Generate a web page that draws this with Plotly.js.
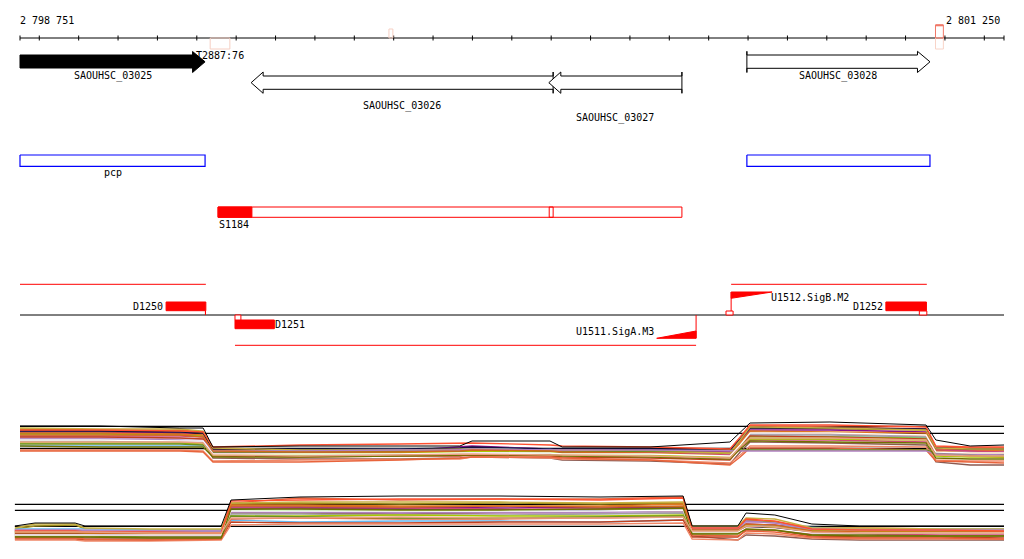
<!DOCTYPE html>
<html><head><meta charset="utf-8">
<script src="https://cdn.plot.ly/plotly-3.0.1.min.js"></script>
<style>html,body{margin:0;padding:0;background:#fff}#chart{width:1024px;height:559px}</style>
</head><body><div id="chart"></div>
<script>
// ---------------- DATA ----------------
const viewStart = 2798751, viewEnd = 2801250;
const rulerLabels = ['2 798 751', '2 801 250'];

const geneNames  = ['SAOUHSC_03025', 'SAOUHSC_03026', 'SAOUHSC_03027', 'SAOUHSC_03028'];
const geneStart  = [2798751, 2799338, 2800094, 2800597];
const geneEnd    = [2799221, 2800105, 2800432, 2801062];
const geneStrand = ['+', '-', '-', '+'];

const operonNames = ['pcp', ''];
const operonStart = [2798751, 2800597];
const operonEnd   = [2799221, 2801062];

const termNames = ['T2887:76', '', ''];
const termStart = [2799234, 2799688, 2801076];
const termEnd   = [2799284, 2799698, 2801096];

const segNames = ['S1184'];
const segStart = [2799254];
const segEnd = [2800432];
const segBlockEnd = [2799340];
const segSplitStart = [2800095];
const segSplitEnd = [2800105];

const tuStart  = [2798751, 2800557, 2799297];
const tuEnd    = [2799223, 2801054, 2800468];
const tuStrand = ['+', '+', '-'];

const siteNames  = ['D1250', 'D1251', 'U1511.SigA.M3', 'U1512.SigB.M2', 'D1252'];
const siteStart  = [2799122, 2799297, 2800368, 2800557, 2800950];
const siteEnd    = [2799223, 2799397, 2800468, 2800661, 2801053];
const siteStrand = ['+', '-', '-', '+', '+'];
const siteKind   = ['D', 'D', 'U', 'U', 'D'];

const markStart  = [2799222, 2799297, 2800544, 2801035];
const markEnd    = [2799222, 2799312, 2800562, 2801054];
const markStrand = ['+', '-', '+', '+'];

// expression panel 1
const panel1X = [2798751,2798954,2799157,2799216,2799241,2799462,2799716,2799868,2799899,2800097,2800128,2800351,2800554,2800580,2800605,2800808,2801052,2801077,2801164,2801250];
const panel1Ref = [43.7, 36.7, 21.5];
const panel1Max = [44,44,42,42,23,24,24,24,29,29,23,23,28,38,47,48,45,30,24,25];
const a01 = [40,39,40,38,21,20,21,20,20,20,20,20,18,30,44,43,41,23,22,22];
const a02 = [41,40,39,37,19,18,19,19,19,18,18,18,16,28,42,41,40,21,20,20];
const a03 = [38,38,37,35,18,19,19,23,24,21,19,19,18,29,40,40,38,20,19,20];
const a04 = [24,24,24,24,18,20,21,21,22,21,18,17,15,25,34,33,32,18,18,19];
const a05 = [36,36,35,34,16,15,16,17,18,17,15,16,14,26,33,33,32,16,15,15];
const a06 = [37,37,36,35,20,18,19,19,20,19,18,18,15,28,39,38,37,21,20,19];
const a07 = [30,30,29,28,12,11,11,12,13,12,10,9,6,18,28,27,25,8,5,5];
const a08 = [32,32,32,31,17,16,17,17,18,17,16,15,13,26,36,36,34,19,18,18];
const a09 = [39,39,38,37,21,21,21,22,23,21,21,21,20,31,42,42,41,22,21,21];
const a10 = [29,29,28,28,18,18,19,19,19,18,18,17,15,25,35,35,33,17,17,17];
const a11 = [42,41,41,39,22,20,20,21,21,20,20,19,17,30,43,42,40,22,21,21];
const a12 = [34,34,34,33,17,17,18,20,20,18,17,17,15,23,30,30,28,20,19,18];
const a13 = [33,33,32,31,14,13,14,14,15,14,13,12,10,22,34,33,31,15,14,13];
const a14 = [27,27,27,26,15,16,17,18,19,18,16,15,13,24,31,31,30,14,13,13];
const a15 = [20,20,20,19,9,10,11,11,13,12,11,10,7,15,24,24,23,10,9,9];
const a16 = [19,19,19,18,8,8,10,12,13,13,12,10,5,13,22,22,20,9,8,7];
const a17 = [26,26,26,25,18,18,19,19,20,19,18,19,20,20,20,20,20,17,16,16];
const a18 = [31,31,30,29,19,19,20,20,21,20,20,20,19,19,19,19,19,16,16,15];
const a19 = [35,35,35,33,19,18,18,19,20,19,18,17,14,26,38,37,35,19,17,17];
const a20 = [40,40,39,38,23,25,26,27,27,25,24,23,21,33,45,45,43,24,23,23];
const a21 = [30,30,29,29,16,16,16,17,17,17,16,16,14,25,37,37,35,18,17,17];
const a22 = [24,23,23,23,13,13,14,15,15,15,14,13,11,21,29,28,27,12,11,11];
const a23 = [28,28,28,27,15,14,15,16,16,15,15,14,12,23,32,32,30,15,14,14];

// expression panel 2
const panel2X = [2798738,2798789,2798891,2798916,2799081,2799262,2799287,2799462,2799716,2799970,2800224,2800435,2800458,2800574,2800595,2800668,2800762,2800884,2801087,2801250];
const panel2Ref = [40.7, 34.7, 18.7];
const panel2Max = [19,22,22,19,19,19,45,48,49,49,48,49,19,19,32,30,21,19,19,19];
const b01 = [15,15,15,14,14,13,42,47,45,46,46,48,17,17,25,23,17,17,16,16];
const b02 = [16,19,20,16,15,15,41,42,41,42,41,42,18,18,24,23,15,14,13,13];
const b03 = [14,14,14,14,13,13,38,38,37,38,37,38,16,16,21,20,15,15,15,14];
const b04 = [16,16,16,16,15,15,25,23,24,24,23,25,19,19,20,19,17,16,16,16];
const b05 = [13,13,13,13,12,12,35,34,34,35,35,36,15,15,18,17,13,12,12,12];
const b06 = [12,12,12,11,11,11,40,40,39,39,39,41,14,14,19,18,13,13,13,12];
const b07 = [8,8,8,7,7,7,32,32,31,32,32,33,9,5,10,9,6,5,5,5];
const b08 = [15,15,15,15,14,14,34,33,33,32,32,33,17,17,23,22,16,16,15,15];
const b09 = [11,11,11,11,10,10,36,37,36,36,34,35,14,14,18,17,12,12,12,12];
const b10 = [14,14,14,13,13,13,31,31,30,30,31,32,16,16,20,19,15,14,14,14];
const b11 = [17,21,21,17,16,16,42,43,43,43,42,43,19,19,27,26,17,17,16,16];
const b12 = [10,10,10,10,9,9,37,37,37,36,36,37,13,13,17,16,11,11,10,10];
const b13 = [6,6,6,5,5,6,23,22,22,23,23,25,8,8,15,15,9,8,8,7];
const b14 = [13,13,13,12,12,12,29,29,30,29,29,30,15,15,19,18,14,14,13,13];
const b15 = [5,5,5,4,4,5,20,21,21,21,21,22,6,5,12,11,7,6,6,6];
const b16 = [7,7,7,6,5,6,26,27,26,26,27,28,10,9,14,13,8,7,7,6];
const b17 = [9,9,9,9,8,8,29,28,27,27,28,29,12,12,16,15,10,10,9,9];
const b18 = [15,15,15,14,14,14,33,33,32,33,33,35,16,16,24,22,16,15,15,15];
const b19 = [12,12,12,12,11,11,39,39,38,39,38,39,15,15,21,20,14,13,13,13];
const b20 = [14,14,14,13,13,12,44,45,46,46,45,47,17,17,26,24,16,15,15,14];
const b21 = [10,10,10,10,10,10,34,34,34,34,34,35,13,13,17,16,12,12,12,12];
const b22 = [8,8,8,8,7,7,36,36,35,35,36,37,11,11,16,15,10,9,9,9];
const b23 = [13,13,13,13,12,12,27,27,28,27,27,28,14,14,19,18,13,12,12,12];

// ---------------- STYLE / LAYOUT ----------------
const seriesColors = ['#e8643c','#9c8c1c','#8b108b','#66b8f0','#66ee11','#e07820','#8c5a50','#c8a0d0','#101040','#a0a0a0','#c8b040','#d04878','#c04020','#a8c800','#f08868','#e8643c','#6b8e23','#b080c0','#d2691e','#ff5030','#ffffff','#707000','#e8a080'];
const highlightGene = 'SAOUHSC_03025';
const geneLabelY = [76, 106, 118.3, 76];
const RED = '#ff0000';
const FONT = {family: 'DejaVu Sans Mono, monospace', size: 10, color: '#000'};

const bpp = (viewEnd - viewStart) / 984;
const pw = n => n * bpp;
const xRange = [viewStart - 20 * bpp, viewStart - 20 * bpp + 1024 * bpp];

const traces = [];
const annotations = [];
function poly(xs, ys, stroke, fill, w, yax) {
  traces.push({type: 'scatter', mode: 'lines', x: xs, y: ys,
    line: {color: stroke, width: w === undefined ? 1 : w},
    fill: fill ? 'toself' : 'none', fillcolor: fill || 'rgba(0,0,0,0)',
    hoverinfo: 'skip', showlegend: false, yaxis: yax || 'y'});
}
function rect(x0, x1, y0, y1, stroke, fill, w) { poly([x0, x1, x1, x0, x0], [y0, y0, y1, y1, y0], stroke, fill, w); }
function seg(x0, x1, y0, y1, color, w) { poly([x0, x1], [y0, y1], color, null, w); }
function ann(x, y, text, xanchor, xshift) {
  annotations.push({x: x, y: y, xref: 'x', yref: 'y', text: text, showarrow: false,
    xanchor: xanchor || 'center', yanchor: 'middle', xshift: xshift || 0, font: FONT, borderpad: 0});
}

// ruler
seg(viewStart, viewEnd, 38, 38, '#000', 1);
const tickX = [viewStart];
for (let t = 2798800; t <= 2801200; t += 100) tickX.push(t);
tickX.push(viewEnd);
const tx = [], ty = [];
tickX.forEach(t => { tx.push(t, t, null); ty.push(35.5, 40.5, null); });
poly(tx, ty, '#000', null, 1);
ann(viewStart, 20, rulerLabels[0], 'left', -1);
ann(viewEnd, 20, rulerLabels[1], 'right', -3);

// terminators
rect(termStart[0], termEnd[0], 38, 49, '#f6cfc3', null, 1);
rect(termStart[1], termEnd[1], 29, 38, '#f6cfc3', null, 1);
rect(termStart[2], termEnd[2], 38, 49, '#f8d4c8', null, 1);
rect(termStart[2], termEnd[2], 25, 38, '#f07868', null, 1);
seg(termStart[2], termEnd[2], 25.3, 25.3, '#f07868', 2);
ann((termStart[0] + termEnd[0]) / 2, 55, termNames[0]);

// genes
geneNames.forEach((g, i) => {
  const s = geneStart[i], e = geneEnd[i];
  const fill = g === highlightGene ? '#000000' : '#ffffff';
  if (geneStrand[i] === '+') {
    const hs = e - pw(12.5);
    if (s > viewStart) poly([s, s, hs, hs, e, hs, hs, s, s, s], [51.3, 55, 55, 51.3, 61.8, 72.5, 68.3, 68.3, 72.5, 51.3], '#000', fill, 1);
    else poly([s, hs, hs, e, hs, hs, s, s], [55, 55, 51.5, 61.8, 72.5, 68, 68, 55], '#000', fill, 1);
  } else {
    const hs = s + pw(12);
    poly([e, e, hs, hs, s, hs, hs, e, e, e], [72, 76, 76, 72, 82.7, 93.3, 89.3, 89.3, 93.3, 72], '#000', fill, 1);
  }
  ann((s + e) / 2, geneLabelY[i], g);
});

// operons
operonNames.forEach((o, i) => {
  rect(operonStart[i], operonEnd[i], 155, 166.3, '#0000ff', '#ffffff', 1.2);
  if (o) ann((operonStart[i] + operonEnd[i]) / 2, 172.7, o);
});

// segments
segNames.forEach((sname, i) => {
  rect(segStart[i], segEnd[i], 207, 217.3, RED, '#ffffff', 1);
  rect(segStart[i], segBlockEnd[i], 207, 217.3, RED, RED, 1);
  rect(segSplitStart[i], segSplitEnd[i], 207, 217.3, RED, null, 1);
  ann(segStart[i], 224, sname, 'left', 0);
});

// transcription units
tuStart.forEach((s, i) => {
  const y = tuStrand[i] === '+' ? 284.3 : 345.3;
  seg(s, tuEnd[i], y, y, RED, 1);
});

// baseline
seg(viewStart, viewEnd, 315, 315, '#000', 1);

// sites
siteNames.forEach((n, i) => {
  const s = siteStart[i], e = siteEnd[i];
  if (siteKind[i] === 'D') {
    if (siteStrand[i] === '+') { rect(s, e, 302, 310.7, RED, RED, 1); ann(s, 306, n, 'right', -2); }
    else { rect(s, e, 320, 328.7, RED, RED, 1); ann(e, 324, n, 'left', 0); }
  } else {
    if (siteStrand[i] === '+') {
      seg(s, s, 292, 315, RED, 1);
      poly([s, e, s, s], [292, 292, 298.3, 292], RED, RED, 1);
      ann(e, 297.7, n, 'left', -2);
    } else {
      seg(e, e, 315, 338.3, RED, 1);
      poly([s, e, e, s], [338.3, 338.3, 331, 338.3], RED, RED, 1);
      ann(s, 331.7, n, 'right', -2);
    }
  }
});
markStart.forEach((s, i) => {
  if (markStrand[i] === '+') rect(s, markEnd[i], 311, 315, RED, '#ffffff', 1);
  else rect(s, markEnd[i], 315, 320, RED, '#ffffff', 1);
});

// expression panels
function panel(xs, ref, series, maxLine, yax, x0) {
  ref.forEach(r => poly([x0, viewEnd], [r, r], '#000', null, 1.3, yax));
  series.forEach((ys, k) => poly(xs, ys, seriesColors[k], null, 1.3, yax));
  poly(xs, maxLine, '#000', null, 1, yax);
}
panel(panel1X, panel1Ref, [a01,a02,a03,a04,a05,a06,a07,a08,a09,a10,a11,a12,a13,a14,a15,a16,a17,a18,a19,a20,a21,a22,a23], panel1Max, 'y2', panel1X[0]);
panel(panel2X, panel2Ref, [b01,b02,b03,b04,b05,b06,b07,b08,b09,b10,b11,b12,b13,b14,b15,b16,b17,b18,b19,b20,b21,b22,b23], panel2Max, 'y3', panel2X[0]);

const layout = {
  width: 1024, height: 559,
  margin: {l: 0, r: 0, t: 0, b: 0, pad: 0},
  paper_bgcolor: '#ffffff', plot_bgcolor: '#ffffff',
  showlegend: false,
  xaxis: {range: xRange, visible: false, fixedrange: true},
  yaxis: {range: [559, 0], domain: [0, 1], visible: false, fixedrange: true},
  yaxis2: {range: [0, 50], domain: [1 - 470 / 559, 1 - 420 / 559], visible: false, anchor: 'x', fixedrange: true},
  yaxis3: {range: [0, 50], domain: [1 - 545 / 559, 1 - 495 / 559], visible: false, anchor: 'x', fixedrange: true},
  annotations: annotations
};
Plotly.newPlot('chart', traces, layout, {staticPlot: true, displayModeBar: false});
</script></body></html>
